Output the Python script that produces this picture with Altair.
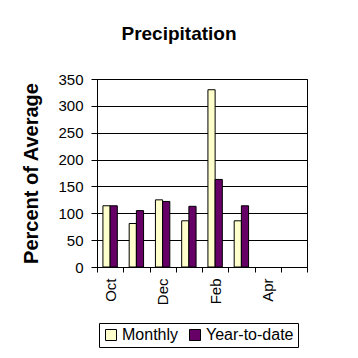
import altair as alt
import pandas as pd

months = ["Oct", "Nov", "Dec", "Jan", "Feb", "Mar", "Apr", "May"]
monthly = [114, 81, 125, 86, 330, 86, None, None]
ytd = [114, 105, 122, 113, 163, 114, None, None]
series = ["Monthly", "Year-to-date"]
colors = ["#FFFFCC", "#660066"]
shown_labels = ["Oct", "Dec", "Feb", "Apr"]

rows = []
for i, m in enumerate(months):
    rows.append({"month": m, "series": series[0], "value": monthly[i]})
    rows.append({"month": m, "series": series[1], "value": ytd[i]})
df = pd.DataFrame(rows)

FONT = "Liberation Sans"
label_expr = "indexof(" + str(shown_labels) + ", datum.value) >= 0 ? datum.value : ''"

chart = alt.Chart(df).mark_bar(stroke="black", strokeWidth=1).encode(
    x=alt.X("month:N", sort=months,
            scale=alt.Scale(domain=months, paddingInner=0, paddingOuter=0),
            axis=alt.Axis(title=None, labelAngle=-90, tickBand="extent",
                          labelExpr=label_expr, tickSize=5, labelPadding=6,
                          labelFontSize=15)),
    xOffset=alt.XOffset("series:N", sort=series,
                        scale=alt.Scale(paddingInner=0, paddingOuter=0.823)),
    y=alt.Y("value:Q",
            scale=alt.Scale(domain=[0, 350]),
            axis=alt.Axis(title="Percent of Average", values=list(range(0, 351, 50)),
                          grid=True, gridColor="black", gridOpacity=1, gridWidth=1,
                          tickSize=6, labelPadding=8, labelFontSize=15,
                          titleFontSize=20, titleFontWeight="bold",
                          titleX=-56, titleBaseline="bottom")),
    color=alt.Color("series:N", sort=series,
                    scale=alt.Scale(domain=series, range=colors),
                    legend=alt.Legend(title=None, orient="none", legendX=2, legendY=244,
                                      direction="horizontal", strokeColor="black",
                                      padding=4, symbolType="square", symbolSize=121,
                                      symbolStrokeColor="black", symbolStrokeWidth=1,
                                      symbolOpacity=1, labelFontSize=16, labelFont=FONT,
                                      labelColor="black", labelOffset=3,
                                      columnPadding=8)),
).properties(
    width=210,
    height=188,
    autosize=alt.AutoSizeParams(type="none"),
    padding={"left": 89, "top": 71, "right": 30, "bottom": 85},
    title=alt.Title("Precipitation", fontSize=19, font=FONT, fontWeight="bold",
                    color="black", anchor="middle", dx=-23, offset=28),
).configure_view(
    stroke="black", strokeWidth=1
).configure_axis(
    domainColor="black", tickColor="black", labelColor="black", titleColor="black",
    labelFont=FONT, titleFont=FONT
)

chart.save("out.html", embed_options={"renderer": "svg", "actions": False})
